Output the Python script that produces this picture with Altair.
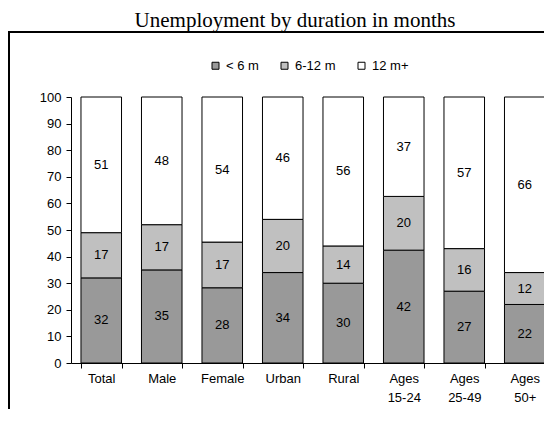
import altair as alt
import pandas as pd

categories = ["Total", "Male", "Female", "Urban", "Rural", "Ages\n15-24", "Ages\n25-49", "Ages\n50+"]
series = ["< 6 m", "6-12 m", "12 m+"]
under_6 = [32, 35, 28, 34, 30, 42, 27, 22]
from_6_to_12 = [17, 17, 17, 20, 14, 20, 16, 12]
over_12 = [51, 48, 54, 46, 56, 37, 57, 66]
colors = ["#999999", "#C0C0C0", "#FFFFFF"]
y_ticks = list(range(0, 101, 10))
subtitle = "Unemployment by duration in months"

rows = []
for i, c in enumerate(categories):
    for j, vals in enumerate([under_6, from_6_to_12, over_12]):
        rows.append({"cat": c, "series": series[j], "value": vals[i], "order": j})
df = pd.DataFrame(rows)

FONT = "Liberation Sans"

base = (
    alt.Chart(df)
    .transform_stack(
        stack="value",
        groupby=["cat"],
        as_=["s0", "s1"],
        sort=[alt.SortField("order", "ascending")],
        offset="normalize",
    )
    .transform_calculate(
        y0="datum.s0*100", y1="datum.s1*100", ym="(datum.s0+datum.s1)*50"
    )
)

x_scale = alt.Scale(range=[0, 484], paddingInner=0.33, paddingOuter=0.165)
y_scale = alt.Scale(domain=[0, 100], nice=False)
x_axis = alt.Axis(
    title=None,
    labelAngle=0,
    labelExpr="split(datum.label, '\\n')",
    tickBand="extent",
    tickSize=5,
    labelPadding=4,
    labelLineHeight=19,
    labelBaseline="top",
)
y_axis = alt.Axis(title=None, values=y_ticks, tickSize=5, labelPadding=5,
                  grid=False, labelOverlap=False)

bars = base.mark_bar(stroke="black", strokeWidth=1).encode(
    x=alt.X("cat:N", sort=categories, scale=x_scale, axis=x_axis),
    y=alt.Y("y0:Q", scale=y_scale, axis=y_axis),
    y2="y1:Q",
    fill=alt.Fill(
        "series:N",
        scale=alt.Scale(domain=series, range=colors),
        legend=alt.Legend(
            title=None,
            orient="none",
            legendX=138,
            legendY=-38,
            direction="horizontal",
            symbolType="square",
            symbolSize=49,
            symbolStrokeColor="black",
            symbolStrokeWidth=1,
            symbolOpacity=1,
            labelFont=FONT,
            labelFontSize=13,
            labelColor="black",
            labelOffset=4,
            columnPadding=19,
            padding=0,
        ),
    ),
)

labels = base.mark_text(font=FONT, fontSize=13, color="black").encode(
    x=alt.X("cat:N", sort=categories, scale=x_scale, axis=x_axis),
    y=alt.Y("ym:Q", scale=y_scale, axis=y_axis),
    text="value:Q",
)

one = pd.DataFrame({"t": [subtitle]})
border = alt.Chart(one).mark_rect(filled=False, stroke="black", strokeWidth=2).encode(
    x=alt.value(-62), x2=alt.value(800), y=alt.value(-65), y2=alt.value(800)
)
sub = alt.Chart(one).mark_text(
    font="Liberation Serif", fontSize=21, align="center", baseline="alphabetic", color="black"
).encode(x=alt.value(224), y=alt.value(-70), text="t:N")

chart = (
    alt.layer(border, sub, bars, labels)
    .properties(
        width=473,
        height=266,
        autosize=alt.AutoSizeParams(type="none"),
        padding={"left": 63, "top": 89, "right": 0, "bottom": 46},
    )
    .configure_view(stroke=None)
    .configure_axis(
        domainColor="black",
        tickColor="black",
        labelColor="black",
        labelFont=FONT,
        labelFontSize=13,
        grid=False,
    )
)

chart.save("out.html", embed_options={"renderer": "svg", "actions": False})
